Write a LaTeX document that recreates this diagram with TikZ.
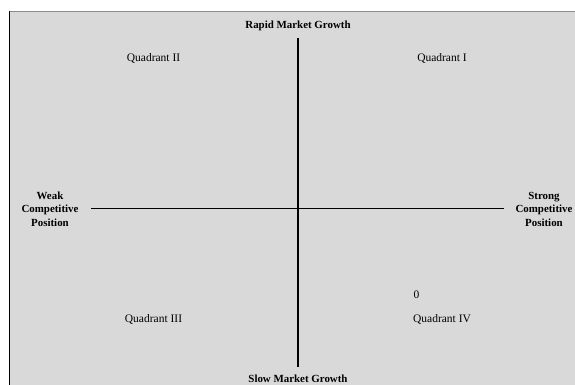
\documentclass[tikz,border=0pt]{standalone}
\usepackage{fontspec}
\setmainfont{Liberation Serif}
\definecolor{bgfill}{HTML}{D9D9D9}
\definecolor{topline}{HTML}{8C8C8C}
\tikzset{
  quad/.style={font=\fontsize{11.5}{13}\selectfont, inner sep=0pt, anchor=center},
  axislabel/.style={font=\fontsize{10.9}{13.5}\selectfont\bfseries, inner sep=0pt, align=center, anchor=center},
  axis/.style={draw=black, line width=1.3pt}
}
\begin{document}
\begin{tikzpicture}[x=1pt,y=-1pt]
\useasboundingbox (0,0) rectangle (575,385);
\fill[white] (0,0) rectangle (575,385);
\fill[bgfill] (9,12) rectangle (575,385);
\draw[topline, line width=1.6pt] (9,11.5) -- (575,11.5);
\draw[black, line width=1.5pt] (9.5,11) -- (9.5,385);
% axes endpoints
\coordinate (vt) at (298,38);
\coordinate (vb) at (298,366.5);
\coordinate (hl) at (91,208.5);
\coordinate (hr) at (504,208.5);
\draw[axis] (vt) -- (vb);
\draw[axis] (hl) -- (hr);
% labels
\node[axislabel] (rapid) at (298,25.5) {Rapid Market Growth};
\node[axislabel] (slow) at (298,379) {Slow Market Growth};
\node[axislabel] (weak) at (50,209) {Weak\\Competitive\\Position};
\node[axislabel] (strong) at (544,209) {Strong\\Competitive\\Position};
\node[quad] (q2) at (153.5,58) {Quadrant II};
\node[quad] (q1) at (442,58) {Quadrant I};
\node[quad] (q3) at (153.5,319) {Quadrant III};
\node[quad] (q4) at (442,319) {Quadrant IV};
\node[quad] (zero) at (416.5,295) {0};
\end{tikzpicture}
\end{document}
